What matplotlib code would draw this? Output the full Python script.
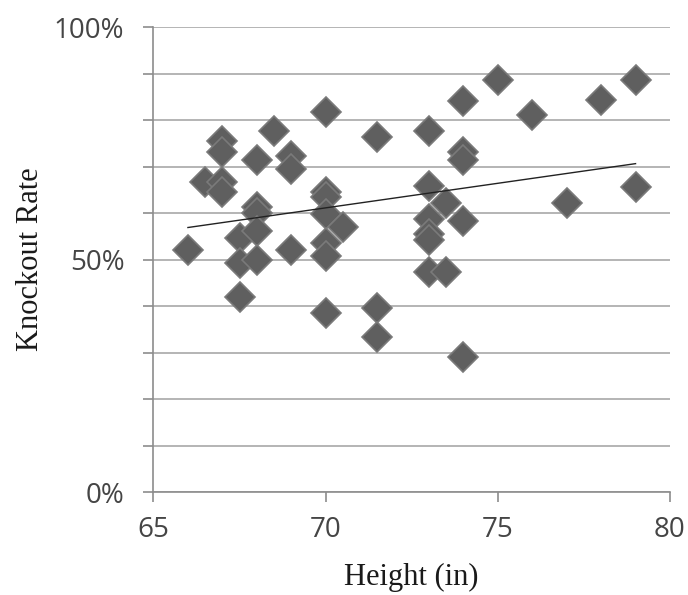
import numpy as np
import matplotlib
matplotlib.use("Agg")
from matplotlib import pyplot as plt
from matplotlib.ticker import MultipleLocator, FuncFormatter

# heights (in) and knockout rates (%)
height = [66, 66.5, 67, 67, 67, 67, 67.5, 67.5, 67.5,
          68, 68, 68, 68, 68, 68.5, 69, 69, 69,
          70, 70, 70, 70, 70, 70, 70, 70.5,
          71.5, 71.5, 71.5,
          73, 73, 73, 73, 73, 73, 73.5, 73.5,
          74, 74, 74, 74, 74, 75, 76, 77, 78, 79, 79]
ko_rate = [52.0, 66.6, 75.5, 73.2, 66.7, 64.6, 54.6, 49.2, 42.0,
           71.5, 61.4, 60.1, 56.2, 49.8, 77.6, 72.3, 69.4, 52.0,
           81.8, 64.6, 63.5, 59.7, 53.6, 50.8, 38.4, 56.9,
           76.3, 39.5, 33.3,
           77.6, 65.9, 58.7, 55.5, 54.2, 47.4, 62.2, 47.4,
           84.1, 73.2, 71.4, 58.3, 29.1, 88.6, 81.1, 62.2, 84.3, 88.6, 65.7]

x_ticks = [65, 70, 75, 80]
y_labels = {0: "0%", 50: "50%", 100: "100%"}

x = np.array(height)
y = np.array(ko_rate)
slope, intercept = np.polyfit(x, y, 1)
xs = np.array([x.min(), x.max()])

fig = plt.figure(figsize=(6.88, 5.95), dpi=100)
ax = fig.add_axes([0.2231, 0.1731, 0.7507, 0.7815])

ax.set_xlim(65, 80)
ax.set_ylim(0, 100)
ax.yaxis.set_major_locator(MultipleLocator(10))
ax.set_xticks(x_ticks)
ax.yaxis.set_major_formatter(FuncFormatter(lambda v, p: y_labels.get(int(round(v)), "")))
ax.grid(axis="y", color="#a8a8a8", linewidth=1.2)
ax.set_axisbelow(True)

for s in ["top", "right"]:
    ax.spines[s].set_visible(False)
for s in ["left", "bottom"]:
    ax.spines[s].set_color("#8c8c8c")
    ax.spines[s].set_linewidth(1.2)

ax.tick_params(axis="both", colors="#8c8c8c", width=1.2, length=7,
               labelcolor="#454545", labelsize=20)
ax.tick_params(axis="x", pad=10)
ax.tick_params(axis="y", pad=14)
for lbl in ax.get_xticklabels() + ax.get_yticklabels():
    lbl.set_family("Open Sans")

ax.plot(x, y, linestyle="none", marker="D", markersize=15,
        markerfacecolor="#5f5f5f", markeredgecolor="#7a7a7a", markeredgewidth=1.2,
        zorder=3)
ax.plot(xs, slope * xs + intercept, color="#222222", linewidth=1.0, zorder=4)

ax.set_xlabel("Height (in)", family="Liberation Serif", fontsize=22, color="#1a1a1a", labelpad=14)
ax.set_ylabel("Knockout Rate", family="Liberation Serif", fontsize=22, color="#1a1a1a", labelpad=6)

fig.savefig("out.png", dpi=100)
